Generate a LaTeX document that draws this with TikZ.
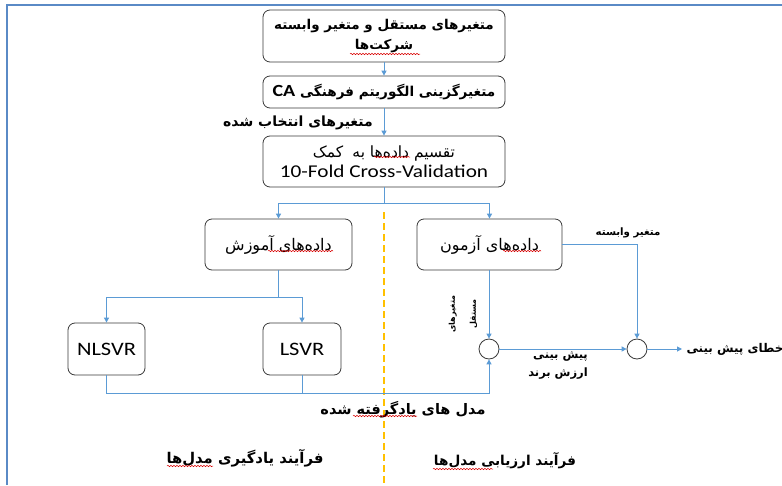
\documentclass[tikz,border=0pt]{standalone}
\usepackage{fontspec}
\setmainfont{Carlito}[FakeStretch=1.18]
\newfontfamily\fa[Script=Arabic]{DejaVu Sans}
\TeXXeTstate=1
\usetikzlibrary{arrows.meta,decorations.pathmorphing}
\definecolor{lblue}{HTML}{5B9BD5}
\definecolor{fblue}{HTML}{5A8AC6}
\definecolor{dyel}{HTML}{FFC000}
\definecolor{bgrey}{HTML}{3A3A3A}
\newcommand{\rl}[1]{\beginR #1\endR}
\begin{document}
\begin{tikzpicture}[x=1pt,y=-1pt,
  box/.style={draw=bgrey, line width=0.8pt, rounded corners=7pt, fill=white, align=center, inner sep=0pt},
  ln/.style={draw=lblue, line width=1pt},
  arr/.style={draw=lblue, line width=1pt, -{Triangle[length=5pt,width=5pt]}},
  fab/.style 2 args={font=\fa\bfseries\fontsize{#1}{#2}\selectfont},
  far/.style 2 args={font=\fa\fontsize{#1}{#2}\selectfont},
  lat/.style={font=\fontsize{#1}{#1}\selectfont},
  wavy/.style={draw=red!85!black, line width=0.5pt, decorate, decoration={snake, segment length=3pt, amplitude=0.7pt}}
]
\useasboundingbox (0,0) rectangle (782,485);
\fill[white] (0,0) rectangle (782,485);
% frame
\draw[fblue, line width=2pt] (7,485) -- (7,5) -- (782,5);
% divider
\draw[dyel, line width=2pt, dash pattern=on 7pt off 4pt] (384,212) -- (384,485);

% boxes
\node[box, minimum width=242pt, minimum height=52pt, fab={13.5}{20}] (b1) at (384,36)
  {\rl{متغیرهای مستقل و متغیر وابسته}\\\rl{شرکت‌ها}};
\node[box, minimum width=242pt, minimum height=32pt, fab={13.6}{16}] (b2) at (384,92)
  {\rl{متغیرگزینی الگوریتم فرهنگی \beginL{\normalfont\bfseries\fontsize{17}{17}\selectfont CA}\endL}};
\node[box, minimum width=242pt, minimum height=51pt, far={15.5}{20}] (b3) at (384,161.5)
  {\rl{تقسیم داده‌ها به\hspace{0.6em}کمک}\\{\normalfont\fontsize{18}{18}\selectfont 10-Fold Cross-Validation}};
\node[box, minimum width=147pt, minimum height=51pt, far={16}{18}] (train) at (278.5,244.5)
  {\rl{داده‌های آموزش}};
\node[box, minimum width=145pt, minimum height=51pt, far={16}{18}] (test) at (489.5,244.5)
  {\rl{داده‌های آزمون}};
\node[box, minimum width=77pt, minimum height=52pt, lat=19] (nlsvr) at (106.5,349) {NLSVR};
\node[box, minimum width=78pt, minimum height=52pt, lat=19] (lsvr) at (302,349) {LSVR};
\node[draw=bgrey, line width=0.8pt, circle, minimum size=20pt, inner sep=0pt] (c1) at (489,349) {};
\node[draw=bgrey, line width=0.8pt, circle, minimum size=20pt, inner sep=0pt] (c2) at (637,349) {};

% helper coordinates
\coordinate (s1) at (384,203);
\coordinate (s2) at (278.5,297);
\coordinate (s3) at (489,393);
\coordinate (e1) at (682,349);

% connectors
\draw[arr] (b1.south) -- (b2.north);
\draw[arr] (b2.south) -- (b3.north);
\draw[ln] (b3.south) -- (s1);
\draw[arr] (s1) -| (train.north);
\draw[arr] (s1) -| (test.north);
\draw[ln] (train.south) -- (s2);
\draw[arr] (s2) -| (nlsvr.north);
\draw[arr] (s2) -| (lsvr.north);
\draw[arr] (nlsvr.south) |- (s3) -- (c1.south);
\draw[ln] (lsvr.south) -- (lsvr.south |- s3);
\draw[arr] (test.south -| c1) -- (c1.north);
\draw[arr] (test.east) -| (c2.north);
\draw[arr] (c1.east) -- (c2.west);
\draw[arr] (c2.east) -- (e1);

% labels
\node[fab={14}{16}] (l1) at (298,123) {\rl{متغیرهای انتخاب شده}};
\node[fab={10.2}{12}] (l2) at (628,233) {\rl{متغیر وابسته}};
\node[fab={8}{21}, rotate=90, align=center] (l3) at (463,314) {\rl{متغیرهای}\\\rl{مستقل}};
\node[fab={11.5}{18}, align=right, anchor=east, inner sep=0pt] (l4) at (588,366) {\rl{پیش بینی}\\\rl{ارزش برند}};
\node[fab={12}{14}] (l5) at (735,349) {\rl{خطای پیش بینی}};
\node[fab={14.5}{16}] (l6) at (403,410) {\rl{مدل های یادگرفته شده}};
\node[fab={14.8}{16}] (l7) at (245,458) {\rl{فرآیند یادگیری مدل‌ها}};
\node[fab={13.6}{16}] (l8) at (505,461) {\rl{فرآیند ارزیابی مدل‌ها}};

% spell-check marks
\draw[wavy] (350,54) -- (420,54);
\draw[wavy] (374,157) -- (410,157);
\draw[wavy] (268,251) -- (333,251);
\draw[wavy] (503,251) -- (541,251);
\draw[wavy] (353,416) -- (417,416);
\draw[wavy] (167,466) -- (213,466);
\draw[wavy] (433,469) -- (493,469);
\end{tikzpicture}
\end{document}
